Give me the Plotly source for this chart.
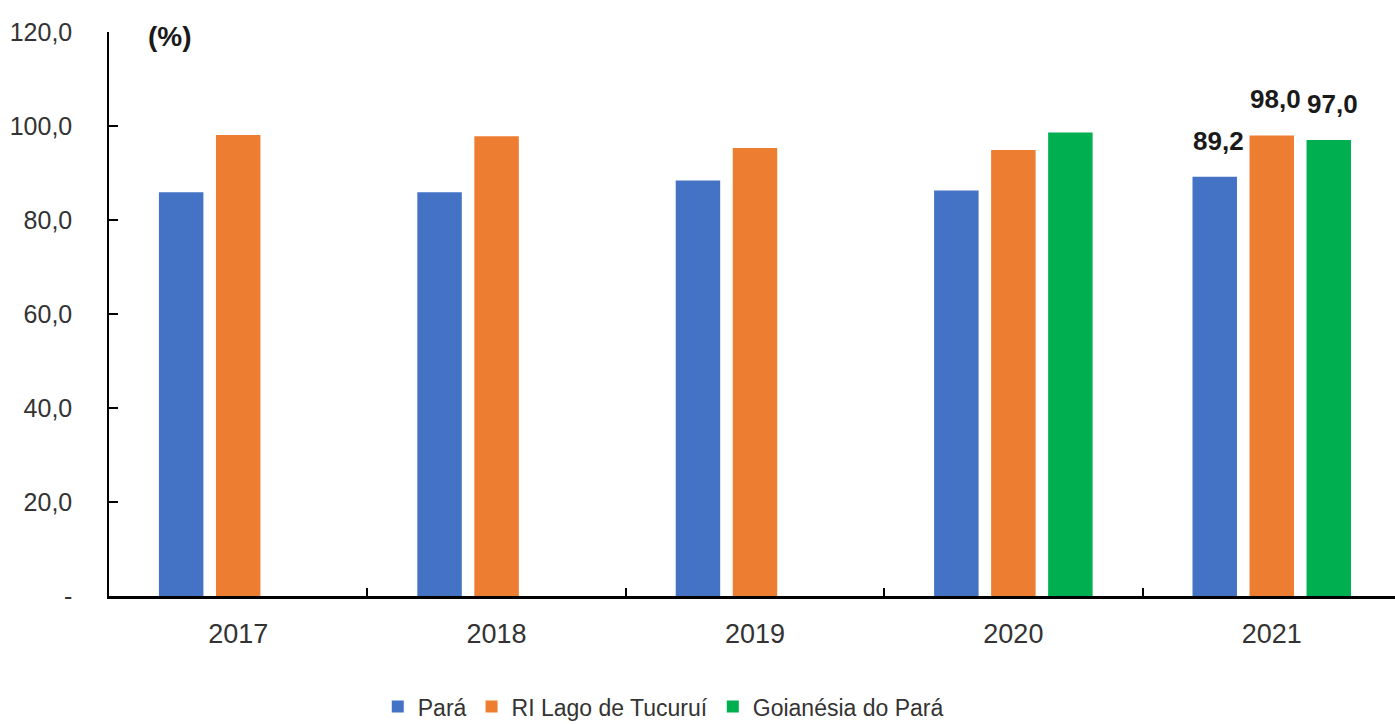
import plotly.graph_objects as go

years = ["2017", "2018", "2019", "2020", "2021"]
para = [85.9, 85.9, 88.4, 86.3, 89.2]
tucurui = [98.1, 97.8, 95.3, 94.9, 98.0]
goianesia = [None, None, None, 98.6, 97.0]

y_ticks = [0, 20, 40, 60, 80, 100, 120]
y_labels = ["-", "20,0", "40,0", "60,0", "80,0", "100,0", "120,0"]

series = [
    ("Pará", para, "#4472C4"),
    ("RI Lago de Tucuruí", tucurui, "#ED7D31"),
    ("Goianésia do Pará", goianesia, "#00B050"),
]

font = "Liberation Sans, Arial, sans-serif"

fig = go.Figure()
for name, vals, color in series:
    fig.add_trace(go.Bar(x=years, y=vals, name=name, marker_color=color,
                         marker_line_width=0))

# data labels on the last year (x given as category index)
shifts = [-57, 0, 57]
last = len(years) - 1
for (name, vals, color), dx in zip(series, shifts):
    fig.add_annotation(x=last, y=vals[last], xref="x", yref="y",
                       text="<b>" + f"{vals[last]:.1f}".replace(".", ",") + "</b>",
                       showarrow=False, xshift=dx + 4, yshift=19,
                       yanchor="bottom",
                       font=dict(family=font, size=26, color="#1a1a1a"))

fig.add_annotation(x=0.029, y=0.992, xref="paper", yref="paper", text="<b>(%)</b>",
                   showarrow=False, xanchor="left", yanchor="middle",
                   font=dict(family=font, size=28, color="#1a1a1a"))

fig.update_layout(
    width=1395, height=724,
    margin=dict(l=109, r=0, t=32, b=128, autoexpand=False),
    plot_bgcolor="white", paper_bgcolor="white",
    barmode="group", bargap=0.338, bargroupgap=0.22,
    showlegend=True,
    legend=dict(orientation="h", x=0.431, xanchor="center", y=-0.158, yanchor="top",
                font=dict(family=font, size=23, color="#333333"),
                itemwidth=30, traceorder="normal"),
    xaxis=dict(type="category", range=[-0.5, 4.477], showline=True,
               linecolor="black", linewidth=3, ticks="inside", tickson="boundaries",
               ticklen=8, tickwidth=2, tickcolor="black", showgrid=False,
               ticklabelstandoff=12, automargin=False,
               tickfont=dict(family=font, size=27, color="#333333")),
    yaxis=dict(range=[0, 120], tickvals=y_ticks, ticktext=y_labels, showline=True,
               linecolor="black", linewidth=1.5, ticks="inside", ticklen=9,
               tickwidth=1.5, tickcolor="black", showgrid=False, zeroline=False,
               ticklabelstandoff=30, automargin=False,
               tickfont=dict(family=font, size=25, color="#333333")),
)

# drop the page's default body margin so the figure sits at the window's corner
fig.write_html("out.html",
               config={"displayModeBar": False},
               post_script="document.body.style.margin='0';"
                           "document.body.style.overflow='hidden';")
